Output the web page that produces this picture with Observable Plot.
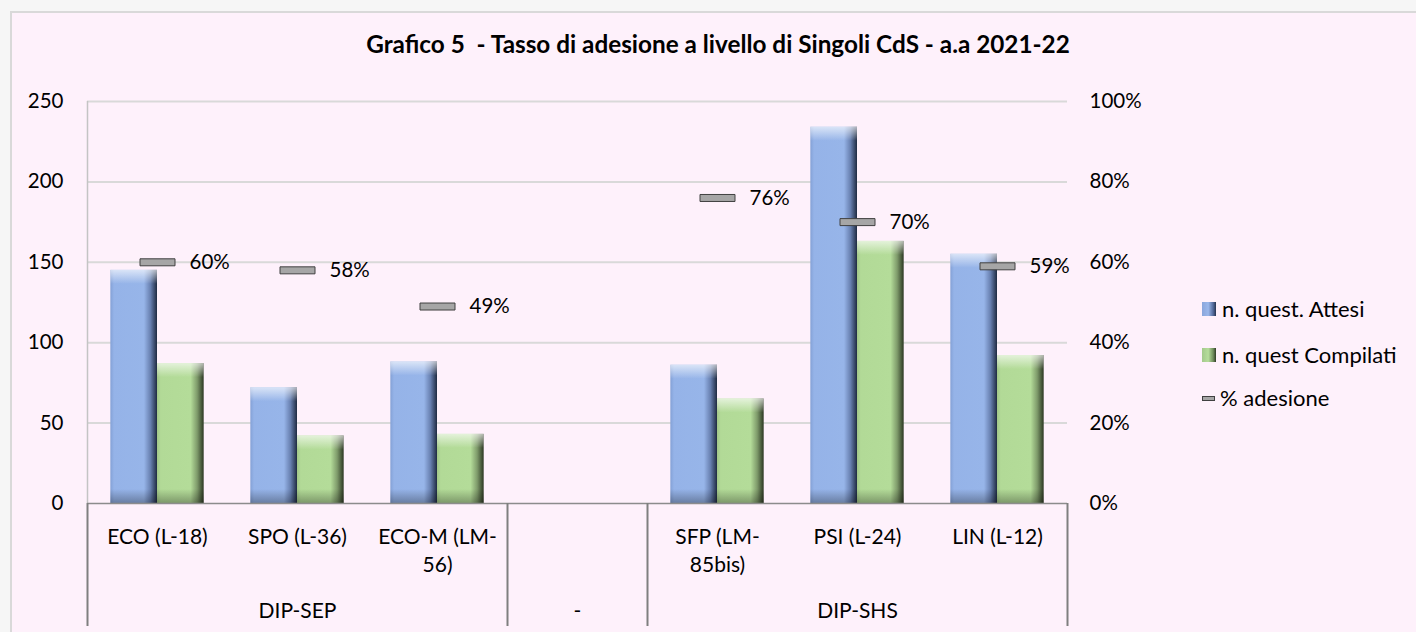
<!DOCTYPE html>
<html>
<head>
<meta charset="utf-8">
<script src="https://cdn.jsdelivr.net/npm/d3@7"></script>
<script src="https://cdn.jsdelivr.net/npm/@observablehq/plot@0.6"></script>
<style>
  html, body { margin: 0; padding: 0; background: #f6f6f6; }
  #wrap { position: relative; width: 1416px; height: 632px; overflow: hidden; background: #f6f6f6; font-family: Lato, "Open Sans", sans-serif; color: #000; }
  #panel { position: absolute; left: 10px; top: 11px; width: 1430px; height: 650px; background: #fef1fb; border-left: 2px solid #d9d9d9; border-top: 2px solid #d9d9d9; box-sizing: border-box; }
  #title { position: absolute; top: 29px; left: 718px; transform: translateX(-50%); white-space: pre; font-weight: 700; font-size: 24.3px; line-height: 30px; }
  #chart { position: absolute; left: 0; top: 0; }
  #legend { position: absolute; left: 1202px; top: 0; }
  .item { position: absolute; left: 0; height: 26px; line-height: 26px; white-space: nowrap; font-size: 22px; display: flex; align-items: center; }
  .sw { width: 14px; height: 14px; margin-right: 6px; box-sizing: border-box; }
  .sw.blue { background: linear-gradient(90deg, #8aa6dc 0%, #9ab7ea 45%, #52699a 80%, #27344f 100%); }
  .sw.green { background: linear-gradient(90deg, #a3c98b 0%, #b6dd9b 45%, #6f8c5c 80%, #2f3b26 100%); }
  .sw.line { width: 13px; height: 5px; background: #a6a6a6; border: 1px solid #404040; margin-right: 5px; }
</style>
</head>
<body>
<div id="wrap">
  <div id="panel"></div>
  <div id="title">Grafico 5  - Tasso di adesione a livello di Singoli CdS - a.a 2021-22</div>
  <div id="chart"></div>
  <div id="legend"></div>
</div>
<script>
// ---- data ----
const categories = ["ECO (L-18)", "SPO (L-36)", "ECO-M (LM-56)", "", "SFP (LM-85bis)", "PSI (L-24)", "LIN (L-12)"];
const tickLabels = ["ECO (L-18)", "SPO (L-36)", "ECO-M (LM-\n56)", "", "SFP (LM-\n85bis)", "PSI (L-24)", "LIN (L-12)"];
const groups = ["DIP-SEP", "DIP-SEP", "DIP-SEP", "-", "DIP-SHS", "DIP-SHS", "DIP-SHS"];
const seriesNames = ["n. quest. Attesi", "n. quest Compilati", "% adesione"];
const attesi = [145, 72, 88, null, 86, 234, 155];
const compilati = [87, 42, 43, null, 65, 163, 92];
const adesione = [0.60, 0.58, 0.49, null, 0.76, 0.70, 0.59];
const leftTicks = [0, 50, 100, 150, 200, 250];
const rightTicks = ["0%", "20%", "40%", "60%", "80%", "100%"];
const yMax = 250; // left-axis value that corresponds to 100%

// ---- derived tables ----
const slots = categories.map((c, i) => ({i, cat: c, label: tickLabels[i], group: groups[i], a: attesi[i], c: compilati[i], p: adesione[i]}));
const bars = slots.flatMap(s => [{i: s.i, s: 0, v: s.a}, {i: s.i, s: 1, v: s.c}]).filter(d => d.v != null);
const pctRows = slots.filter(s => s.p != null);
const runs = [];
groups.forEach((g, i) => {
  const last = runs[runs.length - 1];
  if (last && last.g === g) last.end = i + 1; else runs.push({g, start: i, end: i + 1});
});
const boundaries = [...new Set(runs.flatMap(r => [r.start, r.end]))];

const PAD = 1 / 6, BW = 1 / 3;
const bx1 = d => d.i + PAD + d.s * BW;
const bx2 = d => d.i + PAD + (d.s + 1) * BW;

const markerSymbol = { draw(ctx) { ctx.rect(-17.5, -3.5, 35, 7); } };

const barMarks = (s, grad) => [
  Plot.rect(bars, {filter: d => d.s === s, x1: bx1, x2: bx2, y1: 0, y2: "v", fill: `url(#${grad})`}),
  Plot.rect(bars, {filter: d => d.s === s, x1: bx1, x2: bx2, y1: "v", y2: "v", insetBottom: -14, fill: "url(#gTop)"}),
  Plot.rect(bars, {filter: d => d.s === s, x1: bx1, x2: bx2, y1: 0, y2: 0, insetTop: -14, fill: "url(#gBot)"})
];

const chart = Plot.plot({
  width: 1416,
  height: 632,
  marginLeft: 87,
  marginRight: 349,
  marginTop: 101,
  marginBottom: 129,
  style: {background: "transparent", fontFamily: "Lato, 'Open Sans', sans-serif", fontSize: "20px", color: "#000"},
  x: {domain: [0, categories.length], axis: null},
  y: {domain: [0, yMax], axis: null},
  marks: [
    Plot.gridY({ticks: leftTicks.filter(d => d > 0), stroke: "#d9d9d9", strokeOpacity: 1, strokeWidth: 2}),
    Plot.ruleX([0], {stroke: "#c4c4c4", strokeWidth: 1.5}),
    ...barMarks(0, "gA"),
    ...barMarks(1, "gC"),
    Plot.ruleY([0], {stroke: "#8c8c8c", strokeWidth: 1.5}),
    Plot.ruleX(boundaries, {x: d => d, y1: 0, y2: 0, insetBottom: -123, stroke: "#7f7f7f", strokeWidth: 2}),
    Plot.dot(pctRows, {x: d => d.i + 0.5, y: d => d.p * yMax, symbol: markerSymbol, fill: "#a6a6a6", stroke: "#404040", strokeWidth: 1}),
    Plot.text(pctRows, {x: d => d.i + 0.5, y: d => d.p * yMax, text: d => Math.round(d.p * 100) + "%", textAnchor: "start", dx: 32, fontSize: 20.5, fill: "#000"}),
    Plot.text(slots, {x: d => d.i + 0.5, y: 0, text: "label", lineAnchor: "top", dy: 20, lineHeight: 1.35, fontSize: 21, fill: "#000"}),
    Plot.text(runs, {x: d => (d.start + d.end) / 2, y: 0, text: "g", dy: 108, fontSize: 21, fill: "#000"}),
    Plot.axisY({ticks: leftTicks, anchor: "left", tickSize: 0, tickPadding: 24, fontSize: 20.5, label: null, fill: "#000"}),
    Plot.axisY({ticks: leftTicks, anchor: "right", tickSize: 0, tickPadding: 22, fontSize: 20.5, label: null, fill: "#000",
      tickFormat: d => rightTicks[leftTicks.indexOf(d)]})
  ]
});

// gradients used by the bars
const svg = chart.tagName.toLowerCase() === "svg" ? chart : chart.querySelector("svg");
const defs = d3.select(svg).insert("defs", ":first-child");
function hgrad(id, stops) {
  const g = defs.append("linearGradient").attr("id", id).attr("x1", 0).attr("x2", 1).attr("y1", 0).attr("y2", 0);
  stops.forEach(([o, c, a = 1]) => g.append("stop").attr("offset", o).attr("stop-color", c).attr("stop-opacity", a));
}
function vgrad(id, stops) {
  const g = defs.append("linearGradient").attr("id", id).attr("x1", 0).attr("x2", 0).attr("y1", 0).attr("y2", 1);
  stops.forEach(([o, c, a = 1]) => g.append("stop").attr("offset", o).attr("stop-color", c).attr("stop-opacity", a));
}
hgrad("gA", [[0, "#84a1d6"], [0.08, "#95b3e8"], [0.72, "#97b5e9"], [0.86, "#6880b0"], [1, "#1f2b42"]]);
hgrad("gC", [[0, "#a2c689"], [0.08, "#b2da97"], [0.72, "#b4dc99"], [0.86, "#7f9b6b"], [1, "#2c3823"]]);
vgrad("gTop", [[0, "#ffffff", 0.65], [1, "#ffffff", 0]]);
vgrad("gBot", [[0, "#000000", 0], [1, "#000000", 0.3]]);

document.getElementById("chart").appendChild(chart);

// legend
const legend = d3.select("#legend");
const items = [{name: seriesNames[0], cls: "blue", y: 309}, {name: seriesNames[1], cls: "green", y: 355}, {name: seriesNames[2], cls: "line", y: 398}];
items.forEach(it => {
  const row = legend.append("div").attr("class", "item").style("top", (it.y - 13) + "px");
  row.append("div").attr("class", "sw " + it.cls);
  row.append("span").text(it.name);
});
</script>
</body>
</html>
